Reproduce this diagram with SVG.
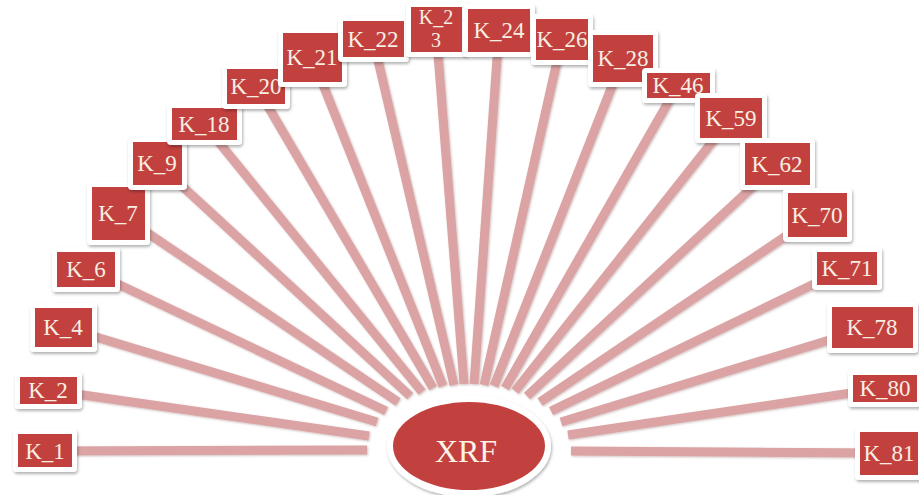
<svg xmlns="http://www.w3.org/2000/svg" width="919" height="495" viewBox="0 0 919 495">
<defs>
<filter id="sh" x="-20%" y="-20%" width="140%" height="150%">
<feDropShadow dx="1" dy="2" stdDeviation="1.5" flood-color="#000" flood-opacity="0.3"/>
</filter>
<filter id="lsh" x="-5%" y="-5%" width="110%" height="110%">
<feDropShadow dx="1" dy="1" stdDeviation="1" flood-color="#7a4a4a" flood-opacity="0.35"/>
</filter>
</defs>
<style>
.bg{fill:#fff;filter:url(#sh)}
.box{fill:#c2413f}
.t{font-family:"Liberation Serif","Times New Roman",serif;font-size:23px;fill:#f7efe2;text-anchor:middle}
.s{font-size:20px}
.c line{stroke:#dba3a3;stroke-width:9}
</style>
<rect width="919" height="495" fill="#fff"/>
<g id="connectors" class="c" filter="url(#lsh)">
<line x1="45" y1="451" x2="367" y2="450"/>
<line x1="48" y1="390" x2="369" y2="436"/>
<line x1="63" y1="327" x2="377" y2="422"/>
<line x1="86" y1="269" x2="386" y2="411"/>
<line x1="118" y1="213" x2="398" y2="402"/>
<line x1="157" y1="163" x2="410" y2="396"/>
<line x1="204" y1="124" x2="422" y2="392"/>
<line x1="256" y1="86" x2="433" y2="388"/>
<line x1="312" y1="57" x2="443" y2="386"/>
<line x1="373" y1="39" x2="454" y2="385"/>
<line x1="436" y1="29" x2="464" y2="384"/>
<line x1="499" y1="30" x2="474" y2="384"/>
<line x1="562" y1="39" x2="484" y2="385"/>
<line x1="623" y1="58" x2="494" y2="386"/>
<line x1="678" y1="85" x2="505" y2="388"/>
<line x1="731" y1="118" x2="515" y2="391"/>
<line x1="777" y1="164" x2="527" y2="396"/>
<line x1="817" y1="215" x2="540" y2="402"/>
<line x1="847" y1="268" x2="551" y2="411"/>
<line x1="872" y1="327" x2="561" y2="422"/>
<line x1="885" y1="388" x2="568" y2="435"/>
<line x1="889" y1="453" x2="571" y2="451"/>
</g>
<g id="XRF">
<ellipse cx="469" cy="446" rx="82" ry="51" fill="#fff" filter="url(#sh)"/>
<ellipse cx="469" cy="446" rx="76" ry="44" fill="#c2413f"/>
<text x="466" y="462" font-family="Liberation Serif,'Times New Roman',serif" font-size="32" fill="#fbf3e8" text-anchor="middle">XRF</text>
</g>
<g id="K_1"><rect class="bg" x="13" y="429" width="64" height="43" rx="4"/><rect class="box" x="18" y="434" width="54" height="33"/><text class="t" x="45" y="459">K_1</text></g>
<g id="K_2"><rect class="bg" x="15" y="372" width="67" height="37" rx="4"/><rect class="box" x="20" y="377" width="57" height="27"/><text class="t" x="48" y="398">K_2</text></g>
<g id="K_4"><rect class="bg" x="30" y="303" width="67" height="49" rx="4"/><rect class="box" x="35" y="308" width="57" height="39"/><text class="t" x="63" y="335">K_4</text></g>
<g id="K_6"><rect class="bg" x="52" y="247" width="68" height="45" rx="4"/><rect class="box" x="57" y="252" width="58" height="35"/><text class="t" x="86" y="277">K_6</text></g>
<g id="K_7"><rect class="bg" x="87" y="182" width="63" height="63" rx="4"/><rect class="box" x="92" y="187" width="53" height="53"/><text class="t" x="118" y="221">K_7</text></g>
<g id="K_9"><rect class="bg" x="128" y="137" width="59" height="53" rx="4"/><rect class="box" x="133" y="142" width="49" height="43"/><text class="t" x="157" y="171">K_9</text></g>
<g id="K_18"><rect class="bg" x="167" y="103" width="75" height="42" rx="4"/><rect class="box" x="172" y="108" width="65" height="32"/><text class="t" x="204" y="132">K_18</text></g>
<g id="K_20"><rect class="bg" x="222" y="64" width="68" height="45" rx="4"/><rect class="box" x="227" y="69" width="58" height="35"/><text class="t" x="256" y="94">K_20</text></g>
<g id="K_21"><rect class="bg" x="278" y="28" width="69" height="59" rx="4"/><rect class="box" x="283" y="33" width="59" height="49"/><text class="t" x="312" y="65">K_21</text></g>
<g id="K_22"><rect class="bg" x="338" y="16" width="71" height="46" rx="4"/><rect class="box" x="343" y="21" width="61" height="36"/><text class="t" x="373" y="47">K_22</text></g>
<g id="K_23"><rect class="bg" x="406" y="2" width="61" height="55" rx="4"/><rect class="box" x="411" y="7" width="51" height="45"/><text class="t s" x="436" y="24">K_2</text><text class="t s" x="436" y="47">3</text></g>
<g id="K_24"><rect class="bg" x="463" y="4" width="72" height="53" rx="4"/><rect class="box" x="468" y="9" width="62" height="43"/><text class="t" x="499" y="38">K_24</text></g>
<g id="K_26"><rect class="bg" x="531" y="14" width="62" height="51" rx="4"/><rect class="box" x="536" y="19" width="52" height="41"/><text class="t" x="562" y="47">K_26</text></g>
<g id="K_28"><rect class="bg" x="588" y="30" width="70" height="57" rx="4"/><rect class="box" x="593" y="35" width="60" height="47"/><text class="t" x="623" y="66">K_28</text></g>
<g id="K_46"><rect class="bg" x="642" y="68" width="73" height="35" rx="4"/><rect class="box" x="647" y="73" width="63" height="25"/><text class="t" x="678" y="93">K_46</text></g>
<g id="K_59"><rect class="bg" x="695" y="93" width="72" height="50" rx="4"/><rect class="box" x="700" y="98" width="62" height="40"/><text class="t" x="731" y="126">K_59</text></g>
<g id="K_62"><rect class="bg" x="740" y="138" width="75" height="52" rx="4"/><rect class="box" x="745" y="143" width="65" height="42"/><text class="t" x="777" y="172">K_62</text></g>
<g id="K_70"><rect class="bg" x="783" y="188" width="69" height="54" rx="4"/><rect class="box" x="788" y="193" width="59" height="44"/><text class="t" x="817" y="223">K_70</text></g>
<g id="K_71"><rect class="bg" x="812" y="247" width="70" height="43" rx="4"/><rect class="box" x="817" y="252" width="60" height="33"/><text class="t" x="847" y="276">K_71</text></g>
<g id="K_78"><rect class="bg" x="827" y="302" width="91" height="51" rx="4"/><rect class="box" x="832" y="307" width="81" height="41"/><text class="t" x="872" y="335">K_78</text></g>
<g id="K_80"><rect class="bg" x="848" y="370" width="74" height="37" rx="4"/><rect class="box" x="853" y="375" width="64" height="27"/><text class="t" x="885" y="396">K_80</text></g>
<g id="K_81"><rect class="bg" x="855" y="427" width="68" height="53" rx="4"/><rect class="box" x="860" y="432" width="58" height="43"/><text class="t" x="889" y="461">K_81</text></g>
</svg>
